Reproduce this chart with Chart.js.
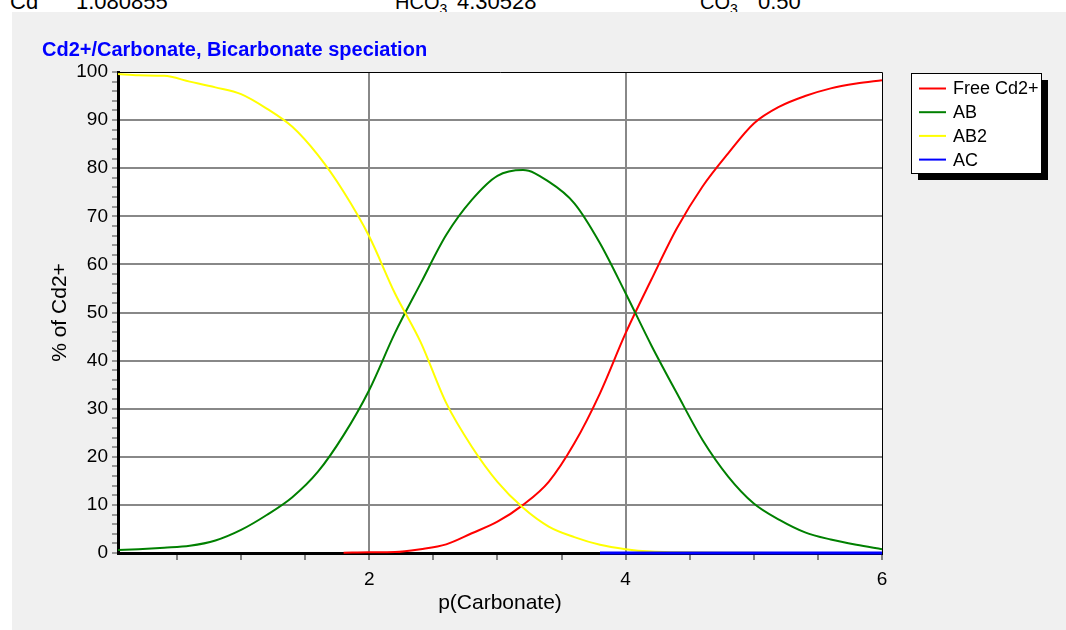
<!DOCTYPE html>
<html>
<head>
<meta charset="utf-8">
<script src="https://cdn.jsdelivr.net/npm/chart.js@4/dist/chart.umd.min.js"></script>
<style>
    body { margin: 0; width: 1066px; height: 630px; overflow: hidden; background: #fff; position: relative; font-family: "Liberation Sans", Arial, sans-serif; }
    .top-text { position: absolute; top: -9px; font-size: 22px; line-height: 22px; white-space: nowrap; color: #000; }
    .top-text sub { font-size: 14px; }
    #panel { position: absolute; left: 12px; top: 12px; width: 1054px; height: 618px; background: #f0f0f0; }
</style>
</head>
<body>
<div class="top-text" style="left: 10px;">Cd</div>
<div class="top-text" style="left: 76px;">1.080855</div>
<div class="top-text" style="left: 395px; font-size: 20px;">HCO<sub>3</sub></div>
<div class="top-text" style="left: 457px;">4.30528</div>
<div class="top-text" style="left: 700px; font-size: 20px;">CO<sub>3</sub></div>
<div class="top-text" style="left: 758px;">0.50</div>
<div id="panel"><canvas id="speciationChart" width="1054" height="618"></canvas></div>
<script>
// p(Carbonate) values the curves were read at
var pCarbonate = [0.04, 0.2, 0.4, 0.6, 0.8, 1.0, 1.2, 1.4, 1.6, 1.8, 2.0, 2.2, 2.4, 2.6, 2.8, 3.0,
    3.2, 3.4, 3.6, 3.8, 4.0, 4.2, 4.4, 4.6, 4.8, 5.0, 5.2, 5.4, 5.6, 5.8, 6.0];

// % of Cd2+ for each species
var freeCd = [null, null, null, null, null, null, null, null, null, 0.05, 0.15, 0.2, 0.8, 1.8, 4.1, 6.5,
    10.0, 14.8, 22.8, 33.2, 45.7, 56.8, 67.5, 76.2, 83.1, 89.3, 92.8, 95.0, 96.6, 97.6, 98.3];
var abValues = [0.6, 0.8, 1.1, 1.5, 2.6, 4.8, 7.9, 11.6, 16.9, 24.5, 33.9, 45.7, 56.0, 66.1, 73.4, 78.4,
    79.6, 77.2, 72.7, 64.4, 54.0, 43.2, 33.2, 23.5, 15.9, 10.3, 6.9, 4.3, 2.8, 1.7, 0.8];
var ab2Values = [99.6, 99.3, 99.2, 98.0, 96.8, 95.4, 92.4, 88.6, 82.7, 75.1, 65.8, 54.0, 43.9, 31.2, 22.1, 14.8,
    9.4, 5.5, 3.3, 1.7, 0.8, 0.3, 0.15, 0.08, 0.05, 0.03, 0.02, 0.01, 0.01, 0, 0];
var acValues = [null, null, null, null, null, null, null, null, null, null, null, null, null, null, null, null,
    null, null, null, 0, 0, 0, 0, 0, 0, 0, 0, 0, 0, 0, 0];

var seriesNames = ["Free Cd2+", "AB", "AB2", "AC"];
var seriesColors = ["#ff0000", "#008000", "#ffff00", "#0000ff"];
var seriesWidths = [2, 2, 2, 3];

// tick labels
var xLabelTicks = [2, 4, 6];
var xMinorTicks = [0.5, 1, 1.5, 2.5, 3, 3.5, 4.5, 5, 5.5];
var yLabelTicks = [0, 10, 20, 30, 40, 50, 60, 70, 80, 90, 100];

function toPoints(values) {
    return pCarbonate.map(function (x, i) {
        return { x: x, y: values[i] };
    });
}

var fontFamily = '"Liberation Sans", Arial, sans-serif';

// white plot area plus thin frame
var plotFrame = {
    id: "plotFrame",
    beforeDraw: function (chart) {
        var a = chart.chartArea;
        var ctx = chart.ctx;
        ctx.save();
        ctx.fillStyle = "#ffffff";
        ctx.fillRect(a.left, a.top, a.right - a.left, a.bottom - a.top);
        ctx.restore();
    },
    beforeDatasetsDraw: function (chart) {
        var a = chart.chartArea;
        var ctx = chart.ctx;
        ctx.save();
        ctx.strokeStyle = "#000000";
        ctx.lineWidth = 1;
        ctx.beginPath();
        ctx.moveTo(a.left, a.top + 0.5);
        ctx.lineTo(a.right + 0.5, a.top + 0.5);
        ctx.lineTo(a.right + 0.5, a.bottom);
        ctx.stroke();
        ctx.restore();
    }
};

// boxed legend with a drop shadow
var boxLegend = {
    id: "boxLegend",
    afterDraw: function (chart) {
        var ctx = chart.ctx;
        var x = 899, y = 61, w = 130, h = 100;
        ctx.save();
        ctx.fillStyle = "#000000";
        ctx.fillRect(x + 7, y + 7, w, h);
        ctx.fillStyle = "#ffffff";
        ctx.fillRect(x, y, w, h);
        ctx.strokeStyle = "#000000";
        ctx.lineWidth = 1;
        ctx.strokeRect(x + 0.5, y + 0.5, w, h);
        ctx.font = "18px " + fontFamily;
        ctx.textBaseline = "middle";
        chart.data.datasets.forEach(function (ds, i) {
            var ly = y + 15.5 + i * 23.7;
            ctx.strokeStyle = ds.borderColor;
            ctx.lineWidth = 2;
            ctx.beginPath();
            ctx.moveTo(x + 8, ly);
            ctx.lineTo(x + 35, ly);
            ctx.stroke();
            ctx.fillStyle = "#000000";
            ctx.fillText(ds.label, x + 42, ly + 1);
        });
        ctx.restore();
    }
};

var ctx = document.getElementById("speciationChart").getContext("2d");
var allSeries = [freeCd, abValues, ab2Values, acValues];

new Chart(ctx, {
    type: "line",
    data: {
        datasets: allSeries.map(function (values, i) {
            return {
                label: seriesNames[i],
                data: toPoints(values),
                borderColor: seriesColors[i],
                backgroundColor: seriesColors[i],
                borderWidth: seriesWidths[i],
                pointRadius: 0,
                cubicInterpolationMode: "monotone",
                spanGaps: false,
                clip: false, // let the zero lines sit on top of the axis
                order: allSeries.length - i, // later series drawn on top
            };
        }),
    },
    options: {
        responsive: false,
        animation: false,
        layout: {
            padding: { left: 30, right: 184, top: 0, bottom: 0 },
        },
        plugins: {
            legend: { display: false },
            tooltip: { enabled: false },
            title: {
                display: true,
                text: "Cd2+/Carbonate, Bicarbonate speciation",
                align: "start",
                color: "#0000ff",
                font: { family: fontFamily, size: 20, weight: "bold" },
                padding: { top: 26, bottom: 10 },
            },
        },
        scales: {
            x: {
                type: "linear",
                min: 0.04,
                max: 6,
                afterBuildTicks: function (scale) {
                    scale.ticks = xMinorTicks.concat(xLabelTicks)
                        .sort(function (a, b) { return a - b; })
                        .map(function (v) { return { value: v }; });
                },
                afterFit: function (scale) {
                    scale.height = 77;
                },
                ticks: {
                    autoSkip: false,
                    maxRotation: 0,
                    padding: 8,
                    color: "#000000",
                    font: { family: fontFamily, size: 19 },
                    callback: function (v) {
                        return xLabelTicks.indexOf(v) >= 0 ? v : "";
                    },
                },
                grid: {
                    lineWidth: 2,
                    color: function (c) {
                        var v = c.tick && c.tick.value;
                        return v === 2 || v === 4 ? "#888888" : "rgba(0,0,0,0)";
                    },
                    tickColor: "#808080",
                    tickWidth: 2,
                    tickLength: 7,
                },
                border: { color: "#000000", width: 3 },
                title: {
                    display: true,
                    text: "p(Carbonate)",
                    color: "#000000",
                    font: { family: fontFamily, size: 21 },
                    padding: { top: 0, bottom: 14 },
                },
            },
            y: {
                min: 0,
                max: 100,
                afterFit: function (scale) {
                    scale.width = 76;
                },
                ticks: {
                    stepSize: 2,
                    autoSkip: false,
                    padding: 4,
                    color: "#000000",
                    font: { family: fontFamily, size: 19 },
                    callback: function (v) {
                        return yLabelTicks.indexOf(v) >= 0 ? v : "";
                    },
                },
                grid: {
                    lineWidth: 2,
                    color: function (c) {
                        var v = c.tick && c.tick.value;
                        return v > 0 && v < 100 && yLabelTicks.indexOf(v) >= 0 ? "#888888" : "rgba(0,0,0,0)";
                    },
                    tickColor: "#444444",
                    tickWidth: 1,
                    tickLength: 6,
                },
                border: { color: "#000000", width: 3 },
                title: {
                    display: true,
                    text: "% of Cd2+",
                    color: "#000000",
                    font: { family: fontFamily, size: 21 },
                    padding: { top: 6, bottom: 0 },
                },
            },
        },
    },
    plugins: [plotFrame, boxLegend],
});
</script>
</body>
</html>
